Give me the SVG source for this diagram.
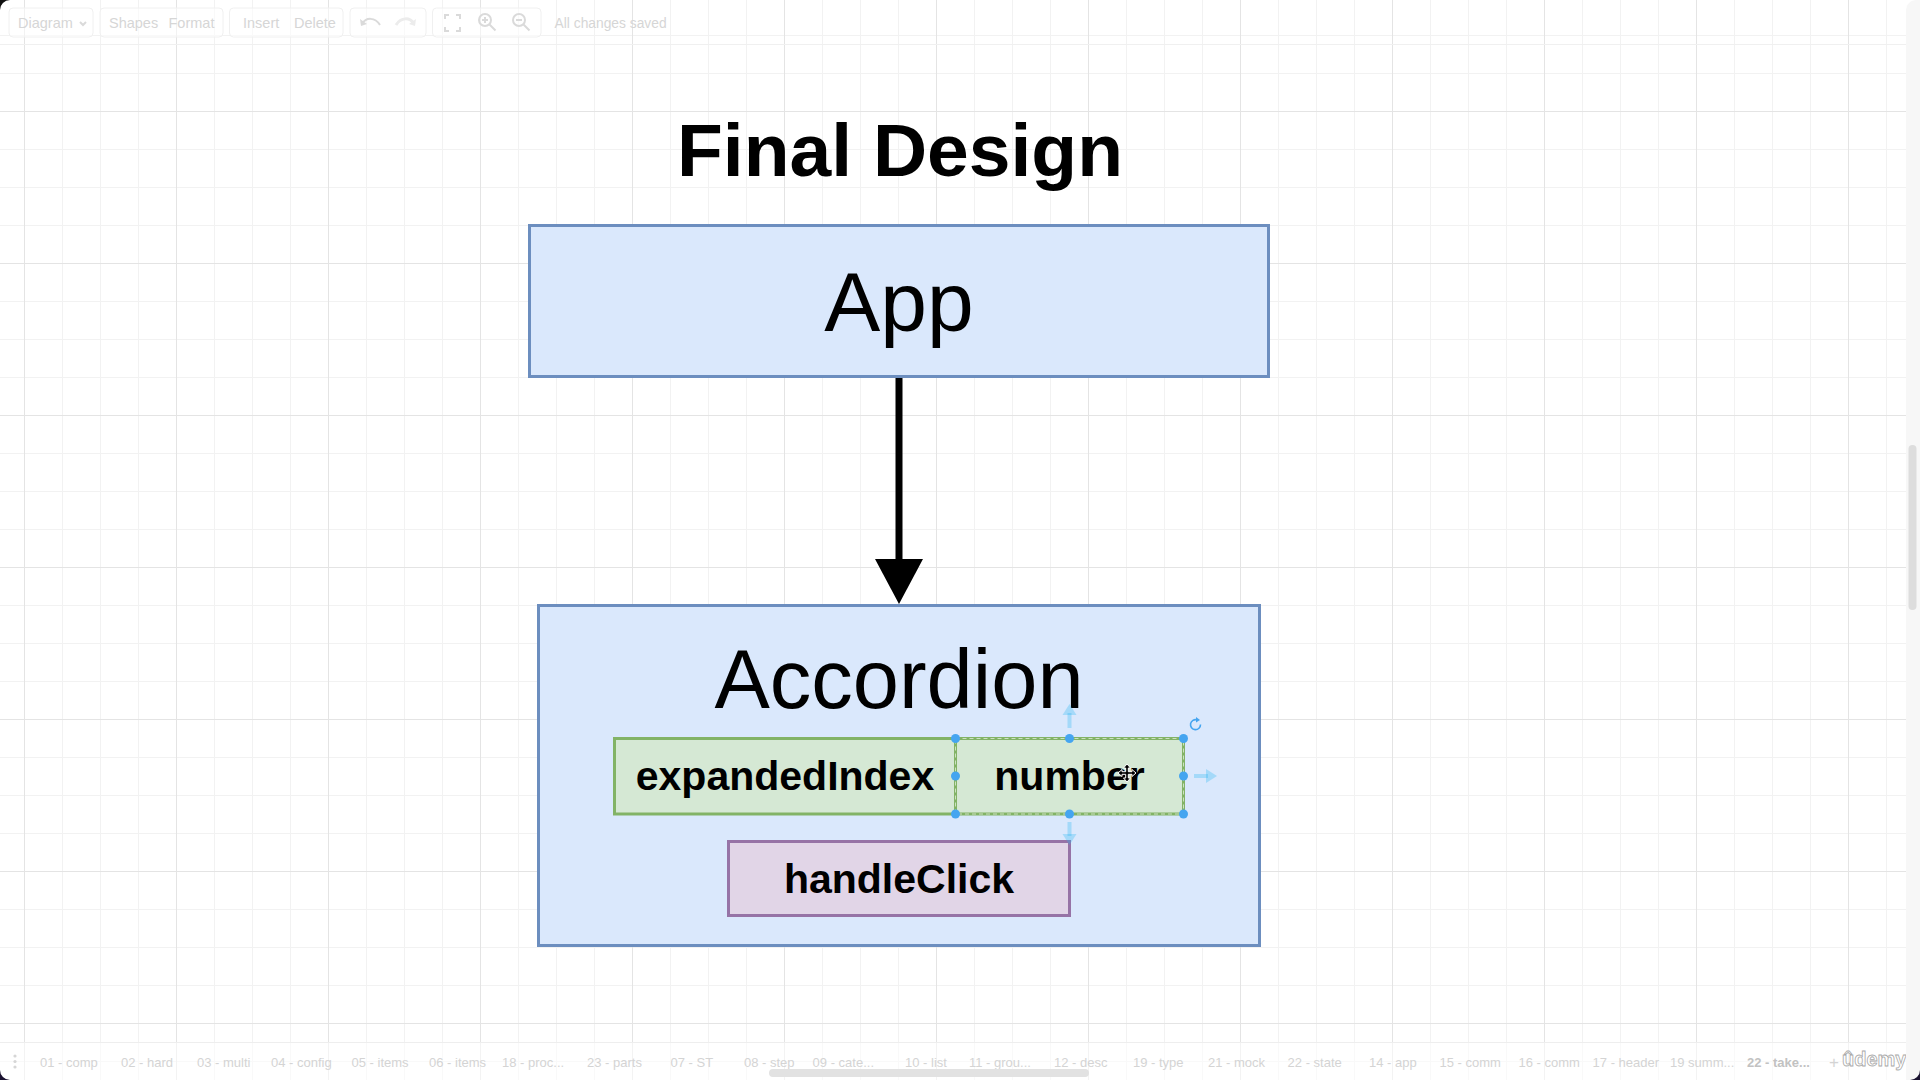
<svg xmlns="http://www.w3.org/2000/svg" width="1920" height="1080" viewBox="0 0 1920 1080">
<defs>
<pattern id="grid" patternUnits="userSpaceOnUse" x="24" y="111" width="152" height="152">
<path d="M38.5 0V152M76.5 0V152M114.5 0V152M0 38.5H152M0 76.5H152M0 114.5H152" stroke="#f2f2f2" stroke-width="1" fill="none"/>
<path d="M0.5 0V152M0 0.5H152" stroke="#e4e4e4" stroke-width="1" fill="none"/>
</pattern>
<marker id="arrow" markerUnits="userSpaceOnUse" markerWidth="46" markerHeight="48" viewBox="0 0 44 47" refX="1" refY="23.5" orient="auto">
<path d="M0 0L44 23.5L0 47Z" fill="#000"/>
</marker>
<style>
.ui{font-family:"Liberation Sans",Arial,sans-serif;fill:#d6d6d6}
.tb{fill:#ffffff;fill-opacity:0.5;stroke:#f0f0f0;stroke-width:1}
.tab{font-family:"Liberation Sans",Arial,sans-serif;font-size:13px;fill:#d4d4d4}
.ico{fill:none;stroke:#dadada;stroke-width:2}
.lbl{font-family:"Liberation Sans",Arial,sans-serif;fill:#000;text-anchor:middle}
.blue{fill:#dae8fc;stroke:#6c8ebf;stroke-width:3}
.green{fill:#d5e8d4;stroke:#82b366;stroke-width:3}
.purple{fill:#e1d5e7;stroke:#9673a6;stroke-width:3}
.handle{fill:#45a5f0}
.hover{fill:#29b6f2;fill-opacity:0.3}
</style>
</defs>
<rect x="0" y="0" width="1920" height="1080" fill="#ffffff"/>
<rect x="0" y="0" width="1920" height="1080" fill="url(#grid)"/>
<line x1="0" y1="44.5" x2="1906" y2="44.5" stroke="#f0f0f0" stroke-width="1"/>

<g id="toolbar">
<rect class="tb" x="9" y="8" width="84" height="29" rx="4"/>
<text class="ui" x="18" y="28" font-size="14.5">Diagram</text>
<path class="ico" d="M80 22l3 3l3-3" stroke-width="1.5"/>
<rect class="tb" x="100" y="8" width="123" height="29" rx="4"/>
<text class="ui" x="109" y="28" font-size="14.5">Shapes</text>
<text class="ui" x="168.5" y="28" font-size="14.5">Format</text>
<rect class="tb" x="229.5" y="8" width="113.5" height="29" rx="4"/>
<text class="ui" x="243" y="28" font-size="14.5">Insert</text>
<text class="ui" x="294" y="28" font-size="14.5">Delete</text>
<rect class="tb" x="350" y="8" width="76" height="29" rx="4"/>
<path d="M362 24c4-7 13-7 18 1" class="ico" stroke-width="3"/>
<path d="M360 19l1 7l6-2z" fill="#dadada"/>
<path d="M414 24c-4-7-13-7-18 1" fill="none" stroke="#ececec" stroke-width="3"/>
<path d="M416 19l-1 7l-6-2z" fill="#ececec"/>
<rect class="tb" x="432.5" y="8" width="108.5" height="29" rx="4"/>
<path class="ico" d="M445 19v-4h4M456 15h4v4M460 27v4h-4M449 31h-4v-4"/>
<circle class="ico" cx="485" cy="20" r="6"/>
<path class="ico" d="M489.5 24.5l6 6M482 20h6M485 17v6" stroke-width="1.6"/>
<circle class="ico" cx="519" cy="20" r="6"/>
<path class="ico" d="M523.5 24.5l6 6M516 20h6" stroke-width="1.6"/>
<text class="ui" x="554.6" y="28" font-size="13.8">All changes saved</text>
</g>

<g id="title">
<text class="lbl" x="900" y="176" font-size="75" font-weight="bold">Final Design</text>
</g>

<g id="connectors">
<line x1="899" y1="378" x2="899" y2="560" stroke="#000" stroke-width="7" marker-end="url(#arrow)"/>
</g>

<g id="node-app">
<rect class="blue" x="529.5" y="225.5" width="739" height="151"/>
<text class="lbl" x="899" y="331" font-size="84">App</text>
</g>

<g id="node-accordion">
<rect class="blue" x="538.5" y="605.5" width="721" height="340"/>
<text class="lbl" x="899" y="708" font-size="83">Accordion</text>
</g>

<g id="node-expandedIndex">
<rect class="green" x="614.5" y="738.5" width="341" height="75.5"/>
<text class="lbl" x="785" y="790" font-size="41" font-weight="bold">expandedIndex</text>
</g>

<g id="node-number">
<rect class="green" x="955.5" y="738.5" width="228" height="75.5"/>
<rect x="955.5" y="738.5" width="228" height="75.5" fill="none" stroke="#ffffff" stroke-opacity="0.6" stroke-width="1" stroke-dasharray="4 3"/>
<text class="lbl" x="1069.5" y="790" font-size="41" font-weight="bold">number</text>
</g>

<g id="node-handleClick">
<rect class="purple" x="728.5" y="841.5" width="341" height="74"/>
<text class="lbl" x="899" y="893" font-size="41" font-weight="bold">handleClick</text>
</g>

<g id="selection">
<rect class="hover" x="1067.5" y="713" width="4" height="15"/>
<path class="hover" d="M1062.5 715h14l-7-11z"/>
<rect class="hover" x="1067.5" y="822" width="4" height="14"/>
<path class="hover" d="M1062.5 834h14l-7 11z"/>
<rect class="hover" x="1194" y="774" width="14" height="4"/>
<path class="hover" d="M1206 769v14l11-7z"/>
<circle class="handle" cx="955.5" cy="738.5" r="4.5"/>
<circle class="handle" cx="1069.5" cy="738.5" r="4.5"/>
<circle class="handle" cx="1183.5" cy="738.5" r="4.5"/>
<circle class="handle" cx="955.5" cy="776" r="4.5"/>
<circle class="handle" cx="1183.5" cy="776" r="4.5"/>
<circle class="handle" cx="955.5" cy="814" r="4.5"/>
<circle class="handle" cx="1069.5" cy="814" r="4.5"/>
<circle class="handle" cx="1183.5" cy="814" r="4.5"/>
<path d="M1200.5 724.5a5 5 0 1 1-3.5-4.6" fill="none" stroke="#45a5f0" stroke-width="1.6"/>
<path d="M1196 717l4 3l-4 2.5z" fill="#45a5f0"/>
<g transform="translate(1127 773)">
<path d="M0-9l-3.5 4h2.2v3.7h-3.7v-2.2l-4 3.5l4 3.5v-2.2h3.7v3.7h-2.2l3.5 4l3.5-4h-2.2v-3.7h3.7v2.2l4-3.5l-4-3.5v2.2h-3.7v-3.7h2.2z" fill="#000" stroke="#fff" stroke-width="1"/>
</g>
</g>

<g id="tabbar">
<rect x="0" y="1042" width="1906" height="38" fill="#ffffff" fill-opacity="0.55"/>
<line x1="0" y1="1042.5" x2="1906" y2="1042.5" stroke="#eeeeee" stroke-width="1"/>
<circle cx="15" cy="1056" r="1.6" fill="#d6d6d6"/>
<circle cx="15" cy="1061.5" r="1.6" fill="#d6d6d6"/>
<circle cx="15" cy="1067" r="1.6" fill="#d6d6d6"/>
<text class="tab" x="40" y="1067">01 - comp</text>
<text class="tab" x="121" y="1067">02 - hard</text>
<text class="tab" x="197" y="1067">03 - multi</text>
<text class="tab" x="271" y="1067">04 - config</text>
<text class="tab" x="351.5" y="1067">05 - items</text>
<text class="tab" x="429" y="1067">06 - items</text>
<text class="tab" x="502" y="1067">18 - proc...</text>
<text class="tab" x="587" y="1067">23 - parts</text>
<text class="tab" x="670.5" y="1067">07 - ST</text>
<text class="tab" x="744" y="1067">08 - step</text>
<text class="tab" x="812.6" y="1067">09 - cate...</text>
<text class="tab" x="905" y="1067">10 - list</text>
<text class="tab" x="969" y="1067">11 - grou...</text>
<text class="tab" x="1054" y="1067">12 - desc</text>
<text class="tab" x="1133" y="1067">19 - type</text>
<text class="tab" x="1208" y="1067">21 - mock</text>
<text class="tab" x="1287.6" y="1067">22 - state</text>
<text class="tab" x="1369" y="1067">14 - app</text>
<text class="tab" x="1439.5" y="1067">15 - comm</text>
<text class="tab" x="1518.5" y="1067">16 - comm</text>
<text class="tab" x="1592.6" y="1067">17 - header</text>
<text class="tab" x="1670" y="1067">19 summ...</text>
<text class="tab" x="1747" y="1067" font-weight="bold" style="fill:#c2c2c2">22 - take...</text>
<text class="tab" x="1829" y="1068" font-size="17" style="font-size:17px">+</text>
<rect x="769" y="1069" width="320" height="8" rx="4" fill="#e2e2e2"/>
</g>

<g id="watermark">
<text x="1842" y="1066" font-family="'Liberation Sans',Arial,sans-serif" font-size="20" font-weight="bold" fill="#ffffff" stroke="#a8a8a8" stroke-width="0.8">ûdemy</text>
</g>

<g id="rightbar">
<path d="M1906 10a10 10 0 0 1 10-10h4v1080h-14z" fill="#f7f7f7"/>
<rect x="1908.5" y="445" width="8" height="165" rx="4" fill="#dddddd"/>
</g>

<g id="corners">
<path d="M0 0H10A10 10 0 0 0 0 10Z" fill="#111111"/>
<path d="M0 1070A10 10 0 0 0 10 1080H0Z" fill="#1a1230"/>
<path d="M1920 1070A10 10 0 0 1 1910 1080H1920Z" fill="#1a1230"/>
</g>
</svg>
